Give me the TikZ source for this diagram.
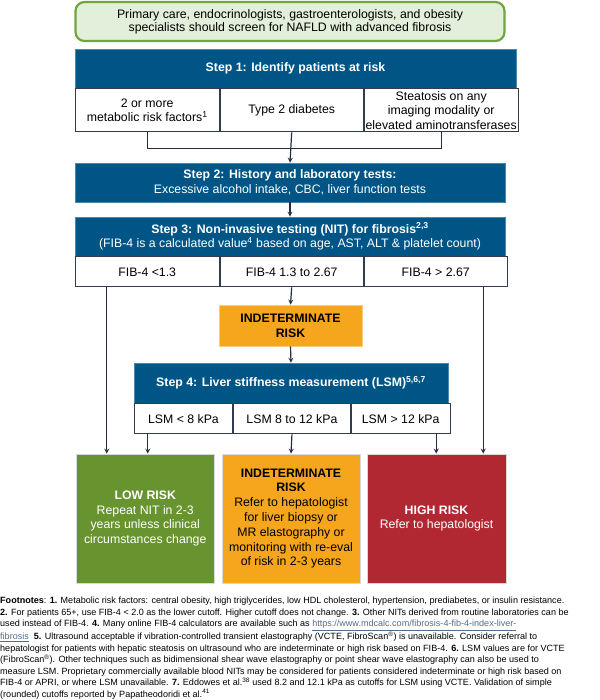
\documentclass[tikz,border=0pt]{standalone}
\usepackage{fontspec}
\setmainfont{Liberation Sans}
\usepackage{tikz}
\usetikzlibrary{arrows}
\usetikzlibrary{positioning}

\definecolor{stepblue}{RGB}{0,85,135}
\definecolor{cellline}{RGB}{50,60,80}
\definecolor{arrowcol}{RGB}{35,45,65}
\definecolor{screenfill}{RGB}{226,239,218}
\definecolor{screenline}{RGB}{112,166,60}
\definecolor{indetorange}{RGB}{246,166,29}
\definecolor{lowgreen}{RGB}{104,148,47}
\definecolor{highred}{RGB}{177,40,51}
\definecolor{linkcol}{RGB}{80,110,140}

\newcommand{\boxfont}{\fontsize{12.3pt}{14.8pt}\selectfont}
\newcommand{\notefont}{\fontsize{9.05pt}{11.5pt}\selectfont}

\begin{document}
\begin{tikzpicture}[x=1pt, y=-1pt, >=stealth,
    stepbox/.style={fill=stepblue, draw=stepblue!70!white, line width=0.6pt, text=white, align=center, inner sep=0pt, font=\boxfont},
    cellbox/.style={fill=white, draw=cellline, line width=1pt, align=center, inner sep=0pt, font=\boxfont},
    riskbox/.style={draw=white!85!black, line width=0.8pt, align=center, inner sep=0pt, minimum height=129pt, font=\boxfont},
    link/.style={->, draw=arrowcol, line width=1.2pt}]

    \useasboundingbox (0,0) rectangle (599,700);

    % Screening
    \node[draw=screenline, fill=screenfill, line width=2.2pt, rounded corners=9pt, minimum width=429pt, minimum height=39pt, align=center, inner sep=0pt, font=\fontsize{12.3pt}{12.8pt}\selectfont] (screen) at (290,21.5) {Primary care, endocrinologists, gastroenterologists, and obesity\\specialists should screen for NAFLD with advanced fibrosis};

    % Step 1
    \node[stepbox, minimum width=441pt, minimum height=39pt, font=\bfseries\boxfont] (s1) at (295.5,68.5) {Step 1: Identify patients at risk};
    \node[cellbox, minimum width=144pt, minimum height=43pt, below right=0pt and 0pt of s1.south west] (s1a) {2 or more\\metabolic risk factors\textsuperscript{1}};
    \node[cellbox, minimum width=143pt, minimum height=43pt, right=0pt of s1a] (s1b) {Type 2 diabetes};
    \node[cellbox, minimum width=154pt, minimum height=43pt, right=0pt of s1b, font=\fontsize{12.3pt}{14.4pt}\selectfont] (s1c) {Steatosis on any\\imaging modality or\\elevated aminotransferases};

    % Step 2
    \node[stepbox, minimum width=430pt, minimum height=39pt] (s2) at (290,182.5) {\textbf{Step 2: History and laboratory tests:}\\Excessive alcohol intake, CBC, liver function tests};

    % Step 3
    \node[stepbox, minimum width=430pt, minimum height=39pt, font=\fontsize{12.3pt}{14.3pt}\selectfont] (s3) at (290,236.5) {\textbf{Step 3: Non-invasive testing (NIT) for fibrosis\textsuperscript{2,3}}\\(FIB-4 is a calculated value\textsuperscript{4} based on age, AST, ALT \& platelet count)};
    \node[cellbox, minimum width=144pt, minimum height=30pt, below right=0pt and 0pt of s3.south west] (s3a) {FIB-4 <1.3};
    \node[cellbox, minimum width=143pt, minimum height=30pt, right=0pt of s3a] (s3b) {FIB-4 1.3 to 2.67};
    \node[cellbox, minimum width=143pt, minimum height=30pt, right=0pt of s3b] (s3c) {FIB-4 > 2.67};

    \node[fill=indetorange, draw=indetorange!60!white, line width=0.8pt, minimum width=143pt, minimum height=41pt, align=center, inner sep=0pt, font=\bfseries\boxfont] (indet) at (290.5,325.5) {INDETERMINATE\\RISK};

    % Step 4
    \node[stepbox, minimum width=314pt, minimum height=40pt, font=\bfseries\boxfont] (s4) at (291,383) {Step 4: Liver stiffness measurement (LSM)\textsuperscript{5,6,7}};
    \node[cellbox, minimum width=98.5pt, minimum height=30pt, below right=0pt and 0pt of s4.south west] (s4a) {LSM < 8 kPa};
    \node[cellbox, minimum width=116.5pt, minimum height=30pt, right=0pt of s4a] (s4b) {LSM 8 to 12 kPa};
    \node[cellbox, minimum width=99pt, minimum height=30pt, right=0pt of s4b] (s4c) {LSM > 12 kPa};

    % Outcomes
    \node[riskbox, fill=lowgreen, text=white, minimum width=138.5pt] (low) at (145.25,518.5) {\textbf{LOW RISK}\\Repeat NIT in 2-3\\years unless clinical\\circumstances change};
    \node[riskbox, fill=indetorange, minimum width=138pt] (mid) at (291,518.5) {\textbf{INDETERMINATE}\\\textbf{RISK}\\Refer to hepatologist\\for liver biopsy or\\MR elastography or\\monitoring with re-eval\\of risk in 2-3 years};
    \node[riskbox, fill=highred, text=white, minimum width=139pt] (high) at (436.5,518.5) {\textbf{HIGH RISK}\\Refer to hepatologist};

    % Connectors
    \draw[draw=arrowcol, line width=1.2pt] (s1a.south) -- ++(0,16) -| (s1c.south);
    \draw[link] (s1b.south) -- (s2.north);
    \draw[link] (s2.south) -- (s3.north);
    \draw[link] (s3b.south) -- (indet.north);
    \draw[link] (indet.south) -- (s4.north);
    \draw[link] ([xshift=-40.5pt]s3a.south) -- ([xshift=-40.5pt]s3a.south |- low.north);
    \draw[link] ([xshift=47.5pt]s3c.south) -- ([xshift=47.5pt]s3c.south |- high.north);
    \draw[link] ([xshift=-35.75pt]s4a.south) -- ([xshift=-35.75pt]s4a.south |- low.north);
    \draw[link] (s4b.south) -- (mid.north);
    \draw[link] ([xshift=35.5pt]s4c.south) -- ([xshift=35.5pt]s4c.south |- high.north);

    % Footnotes
    \node[anchor=north west, inner sep=0pt, align=left, font=\notefont] (notes) at (0,597) {\textbf{Footnotes}: \textbf{1.} Metabolic risk factors: central obesity, high triglycerides, low HDL cholesterol, hypertension, prediabetes, or insulin resistance.\\
    \textbf{2.} For patients 65+, use FIB-4 < 2.0 as the lower cutoff. Higher cutoff does not change. \textbf{3.} Other NITs derived from routine laboratories can be\\
    used instead of FIB-4. \textbf{4.} Many online FIB-4 calculators are available such as \textcolor{linkcol}{\underline{https://www.mdcalc.com/fibrosis-4-fib-4-index-liver-}}\\
    \textcolor{linkcol}{\underline{fibrosis}}\ \ \textbf{5.} Ultrasound acceptable if vibration-controlled transient elastography (VCTE, FibroScan\textsuperscript{\textregistered}) is unavailable. Consider referral to\\
    hepatologist for patients with hepatic steatosis on ultrasound who are indeterminate or high risk based on FIB-4. \textbf{6.} LSM values are for VCTE\\
    (FibroScan\textsuperscript{\textregistered}). Other techniques such as bidimensional shear wave elastography or point shear wave elastography can also be used to\\
    measure LSM. Proprietary commercially available blood NITs may be considered for patients considered indeterminate or high risk based on\\
    FIB-4 or APRI, or where LSM unavailable. \textbf{7.} Eddowes et al.\textsuperscript{38} used 8.2 and 12.1 kPa as cutoffs for LSM using VCTE. Validation of simple\\
    (rounded) cutoffs reported by Papatheodoridi et al.\textsuperscript{41}};

\end{tikzpicture}
\end{document}
